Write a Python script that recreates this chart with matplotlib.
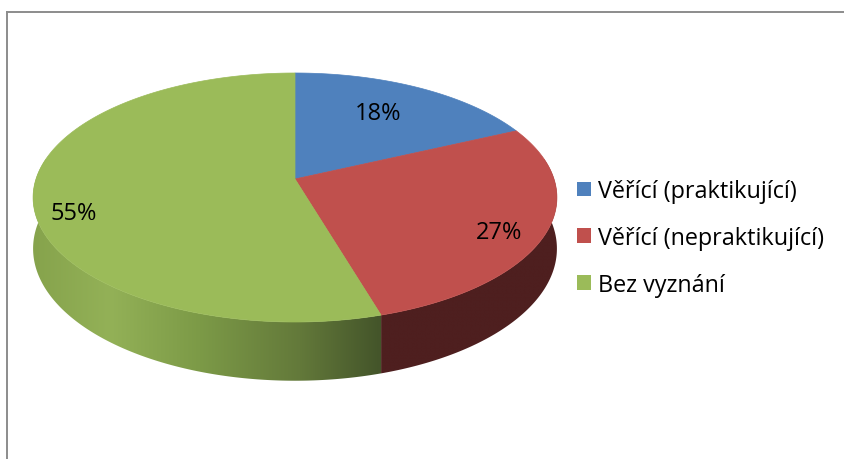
import numpy as np
import matplotlib
matplotlib.use("Agg")
import matplotlib.pyplot as plt
from matplotlib.patches import Polygon, Patch
from matplotlib.lines import Line2D
from matplotlib.colors import to_rgb

# ---- data ----
categories = ["Věřící (praktikující)", "Věřící (nepraktikující)", "Bez vyznání"]
values = [18.1, 27.3, 54.6]
top_colors = ["#4F81BD", "#C0504D", "#9BBB59"]

# ---- layout / style ----
W, H = 844, 460
CX, CY = 295, 180        # apex of the pie (pixels)
R, T = 259, 121.75       # horizontal / vertical radii of projection
K = 0.1486               # perspective strength
D = 50                   # thickness
FONT = ["Open Sans", "DejaVu Sans"]

fig = plt.figure(figsize=(W / 100, H / 100), dpi=100)
ax = fig.add_axes([0, 0, 1, 1])
ax.set_xlim(0, W)
ax.set_ylim(H, 0)
ax.axis("off")


def proj(theta_deg, r=1.0, drop=0.0):
    t = np.radians(theta_deg)
    u = r * np.sin(t)
    v = -r * np.cos(t)
    s = 1.0 / (1.0 - K * v)
    return CX + R * u * s, CY + T * v * s + drop * s


total = float(sum(values))
bounds = np.concatenate([[0], np.cumsum(values) / total * 360.0])

# side gradients (left -> right in pixel x)
side_stops = {
    0: ([0, W], ["#2C4A70", "#2C4A70"]),
    1: ([0, W], ["#4E1F1F", "#4E1F1F"]),
    2: ([33, 110, 200, 300, 380],
        ["#86A34C", "#93B157", "#7C9A47", "#63793A", "#44552A"]),
}

# ---- sides (front visible part) ----
for i in range(len(values)):
    a, b = bounds[i], bounds[i + 1]
    lo, hi = max(a, 80.0), min(b, 280.0)
    if lo >= hi:
        continue
    ths = np.linspace(lo, hi, int((hi - lo) * 2) + 2)
    xt, yt = proj(ths)
    xb, yb = proj(ths, drop=D)
    pts = np.vstack([np.column_stack([xt, yt]),
                     np.column_stack([xb, yb])[::-1]])
    poly = Polygon(pts, closed=True, facecolor="none", edgecolor="none")
    ax.add_patch(poly)
    sx, sc = side_stops[i]
    cols = np.array([to_rgb(c) for c in sc])
    gx = np.linspace(pts[:, 0].min() - 2, pts[:, 0].max() + 2, 400)
    grad = np.stack([np.interp(gx, sx, cols[:, k]) for k in range(3)], axis=-1)
    img = ax.imshow(grad[np.newaxis, :, :],
                    extent=[gx[0], gx[-1], pts[:, 1].max() + 2, pts[:, 1].min() - 2],
                    aspect="auto", interpolation="bilinear", zorder=2)
    img.set_clip_path(poly)

ax.set_xlim(0, W)
ax.set_ylim(H, 0)

# ---- tops ----
for i in range(len(values)):
    a, b = bounds[i], bounds[i + 1]
    ths = np.linspace(a, b, int((b - a) * 2) + 2)
    xs, ys = proj(ths)
    pts = [[CX, CY]] + list(zip(xs, ys))
    ax.add_patch(Polygon(pts, closed=True, facecolor=top_colors[i],
                         edgecolor=top_colors[i], linewidth=0.5, zorder=3))

# ---- data labels ----
label_r = [0.62, 0.84, 0.86]
label_dy = [-7, 9, 19]
label_dx = [3, -5, 3]
for i in range(len(values)):
    mid = 0.5 * (bounds[i] + bounds[i + 1])
    x, y = proj(mid, r=label_r[i])
    pct = values[i] / total * 100
    ax.text(x + label_dx[i], y + label_dy[i], f"{pct:.0f}%", ha="center",
            va="center", fontsize=17, family=FONT, color="black", zorder=5)

# ---- legend ----
handles = [Patch(facecolor=c, edgecolor="none") for c in top_colors]
leg = ax.legend(handles, categories, loc="center left",
                bbox_to_anchor=(577 / W, 1 - 239 / H), frameon=False,
                prop={"family": FONT, "size": 16.8},
                handlelength=0.6, handleheight=0.6, handletextpad=0.3,
                labelspacing=0.98, borderpad=0, borderaxespad=0)

# ---- chart frame ----
ax.add_line(Line2D([6.5, 6.5], [H, 12.5], color="#8C8C8C", lw=1.4, zorder=6))
ax.add_line(Line2D([6.5, W], [12.5, 12.5], color="#8C8C8C", lw=1.4, zorder=6))

fig.savefig("out.png", dpi=100, facecolor="white")
